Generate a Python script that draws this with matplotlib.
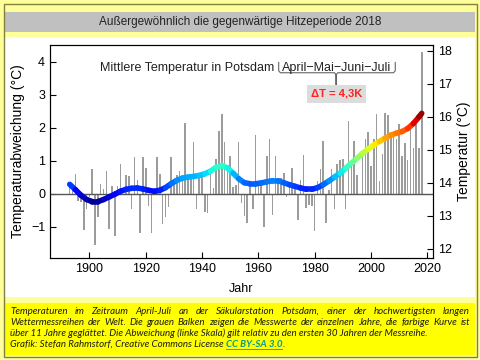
import numpy as np
import matplotlib
matplotlib.use("Agg")
import matplotlib.pyplot as plt
from matplotlib.collections import LineCollection
from matplotlib.patches import Rectangle
from matplotlib.lines import Line2D

# Temperature anomaly April-July, Potsdam (deg C, relative to first 30 years)
years = list(range(1893, 2019))
anomaly = [
    0.25, 0.1, 0.58, -0.22, -0.25, -1.1, -0.47,
    -0.1, 0.73, -1.57, -0.7, 0.3, 0.15, 0.67, -1.07, 0.22, -1.28,
    0.22, 0.9, -0.05, 0.55, 0.52, -0.47, 1.1, 0.42, -1.2, 1.1,
    0.77, -0.37, -1.18, 0.05, 1.1, 0.6, -0.93, -0.7, -0.4, 1.1,
    0.45, 0.55, 0.68, 0.5, 2.15, 0.5, 0.55, 1.57, -0.47, 0.47,
    0.5, -0.57, -0.6, 0.6, 0.17, 1.05, 1.9, 2.4, 1.57, 0.7,
    1.15, 0.2, 0.25, 1.57, -0.28, -0.69, -0.89, 0.22, -0.48, 1.77,
    0.3, 0.25, -1.0, 1.13, 1.64, -0.64, 1.13, 0.37, 0.47, 0.63,
    -0.1, 0.35, 0.78, 0.2, -0.79, 0.42, 1.18, -0.43, -0.33, -0.38,
    -1.14, 0.37, 0.73, 1.59, -0.89, 0.12, 0.73, -0.48, 0.91, 1.03,
    1.05, -0.48, 2.21, 1.03, 1.6, 0.55, 0.0, 1.18, 1.64, 1.87,
    0.83, 1.65, 2.42, 0.39, 1.2, 2.44, 2.37, 1.84, 1.74, 1.65,
    2.11, 1.15, 1.52, 1.03, 2.04, 1.38, 2.12, 1.38, 4.29,
]

# 11-year smoothed curve
curve_years = [1893, 1895, 1897, 1899, 1901, 1903, 1905, 1907, 1909, 1911,
               1913, 1915, 1917, 1919, 1921, 1923, 1925, 1927, 1929, 1931,
               1933, 1935, 1937, 1939, 1941, 1943, 1945, 1947, 1949, 1951,
               1953, 1955, 1957, 1959, 1961, 1963, 1965, 1967, 1969, 1971,
               1973, 1975, 1977, 1979, 1981, 1983, 1985, 1987, 1989, 1991,
               1993, 1995, 1997, 1999, 2001, 2003, 2005, 2007, 2009, 2011,
               2013, 2015, 2017, 2018]
curve_vals = [0.28, 0.12, -0.05, -0.18, -0.24, -0.24, -0.18, -0.1, -0.02, 0.07,
              0.13, 0.16, 0.17, 0.14, 0.1, 0.07, 0.1, 0.18, 0.3, 0.4,
              0.47, 0.5, 0.52, 0.55, 0.6, 0.68, 0.8, 0.85, 0.78, 0.62,
              0.45, 0.33, 0.3, 0.3, 0.32, 0.36, 0.39, 0.39, 0.33, 0.27,
              0.22, 0.17, 0.13, 0.13, 0.18, 0.27, 0.38, 0.5, 0.62, 0.77,
              0.92, 1.07, 1.22, 1.35, 1.47, 1.58, 1.68, 1.77, 1.83, 1.88,
              1.97, 2.12, 2.32, 2.43]

baseline = 13.67  # absolute temperature of the zero line
left_ticks = [-1, 0, 1, 2, 3, 4]
right_ticks = [12, 13, 14, 15, 16, 17, 18]
x_ticks = [1900, 1920, 1940, 1960, 1980, 2000, 2020]

W, H = 480, 360
plt.rcParams["font.family"] = ["Liberation Sans", "DejaVu Sans"]


def fx(px):
    return px / W


def fy(py):
    return 1 - py / H


fig = plt.figure(figsize=(4.8, 3.6), dpi=100, facecolor="#FFFF99")

# frame, title bar, white panel, caption box (behind the axes)
bg = dict(transform=fig.transFigure, zorder=-5)
fig.add_artist(Rectangle((fx(5), fy(32)), 470 / W, 20 / H, facecolor="#C0C0C0",
                         edgecolor="none", **bg))
fig.add_artist(Rectangle((fx(5), fy(297)), 470 / W, 260 / H, facecolor="white",
                         edgecolor="none", **bg))
fig.add_artist(Rectangle((fx(5), fy(355)), 470 / W, 52 / H, facecolor="#FFFF00",
                         edgecolor="none", **bg))
fig.add_artist(Rectangle((fx(3.5), fy(356.5)), 473 / W, 353 / H, fill=False,
                         edgecolor="#808040", lw=1, **bg))

fig.text(0.5, fy(22), "Außergewöhnlich die gegenwärtige Hitzeperiode 2018",
         ha="center", va="center", fontsize=8.5, color="#222222")

ax = fig.add_axes([fx(50), fy(258), 383 / W, 213 / H])
ax.patch.set_alpha(0)
ax.bar(years, anomaly, width=0.55, color="#9C9C9C", zorder=1)
ax.axhline(0, color="#555555", lw=1, zorder=2)

pts = np.column_stack([curve_years, curve_vals]).reshape(-1, 1, 2)
segs = np.concatenate([pts[:-1], pts[1:]], axis=1)
lc = LineCollection(segs, cmap="jet", norm=plt.Normalize(-0.3, 2.45),
                    linewidths=4, capstyle="round", joinstyle="round", zorder=3)
lc.set_array((np.array(curve_vals[:-1]) + np.array(curve_vals[1:])) / 2)
ax.add_collection(lc)

ylim = (-1.95, 4.5)
ax.set_xlim(1886, 2022)
ax.set_ylim(*ylim)
ax.set_xticks(x_ticks)
ax.set_yticks(left_ticks)
ax.set_yticklabels(["\u22121", "0", "1", "2", "3", "4"])
ax.tick_params(direction="in", length=4, labelsize=9, width=0.8)
ax.set_ylabel("Temperaturabweichung (°C)", fontsize=10, labelpad=4)
ax.set_xlabel("Jahr", fontsize=9, labelpad=6)
for s in ax.spines.values():
    s.set_linewidth(0.8)

ax2 = ax.twinx()
ax2.set_ylim(ylim[0] + baseline, ylim[1] + baseline)
ax2.set_yticks(right_ticks)
ax2.tick_params(direction="in", length=4, labelsize=9, width=0.8)
ax2.set_ylabel("Temperatur (°C)", fontsize=10, labelpad=4)

# annotation
ax.text(1965.8, 3.79, "Mittlere Temperatur in Potsdam", ha="right", va="center",
        fontsize=9, color="#222222")
ax.text(1987.6, 3.79, "April\u2212Mai\u2212Juni\u2212Juli", ha="center", va="center",
        fontsize=9, color="#222222")
x1, x2, xm, yt, yb, yk = 1967.2, 2008.6, 1987.6, 3.97, 3.66, 3.30
ax.plot([x1, x1, x1 + 0.6, xm - 0.6, xm, xm, xm, xm + 0.6, x2 - 0.6, x2, x2],
        [yt, yb + 0.06, yb, yb, yb - 0.06, yk, yb - 0.06, yb, yb, yb + 0.06, yt],
        color="#666666", lw=0.8)
ax.text(1987.9, 3.02, "\u0394T = 4,3K", ha="center", va="center", fontsize=8,
        fontweight="bold", color="#FF2222",
        bbox=dict(boxstyle="square,pad=0.35", facecolor="#DCDCDC", edgecolor="none"))

# caption
cap_lines = [
    "Temperaturen im Zeitraum April-Juli an der Säkularstation Potsdam, einer der hochwertigsten langen",
    "Wettermessreihen der Welt. Die grauen Balken zeigen die Messwerte der einzelnen Jahre, die farbige Kurve ist",
]
last_line = "über 11 Jahre geglättet. Die Abweichung (linke Skala) gilt relativ zu den ersten 30 Jahren der Messreihe."
cap_y = [311.5, 322.5, 333.5, 344.5]
cap_kw = dict(fontsize=7.0, style="italic", family=["Lato", "DejaVu Sans"],
              color="#1A1A1A", va="center")
fig.canvas.draw()
rend = fig.canvas.get_renderer()

# justified lines: spread words over the full width
for i, line in enumerate(cap_lines):
    words = line.split()
    texts = [fig.text(0, fy(cap_y[i]), w, **cap_kw) for w in words]
    widths = [t.get_window_extent(rend).width for t in texts]
    gap = (460 - sum(widths)) / (len(words) - 1)
    x = 10
    for t, w in zip(texts, widths):
        t.set_x(fx(x))
        x += w + gap

fig.text(fx(10), fy(cap_y[2]), last_line, **cap_kw)

t1 = fig.text(fx(10), fy(cap_y[3]), "Grafik: Stefan Rahmstorf, Creative Commons License ", **cap_kw)
w1 = t1.get_window_extent(rend).width
link_kw = dict(cap_kw)
link_kw.update(color="#009999", fontweight="bold")
t2 = fig.text(fx(10 + w1), fy(cap_y[3]), "CC BY-SA 3.0", **link_kw)
w2 = t2.get_window_extent(rend).width
fig.text(fx(10 + w1 + w2), fy(cap_y[3]), ".", **cap_kw)
fig.add_artist(Line2D([fx(10 + w1), fx(10 + w1 + w2)], [fy(cap_y[3] + 4.5)] * 2,
                      transform=fig.transFigure, color="#009999", lw=0.6))

fig.savefig("out.png", dpi=100, facecolor=fig.get_facecolor())
